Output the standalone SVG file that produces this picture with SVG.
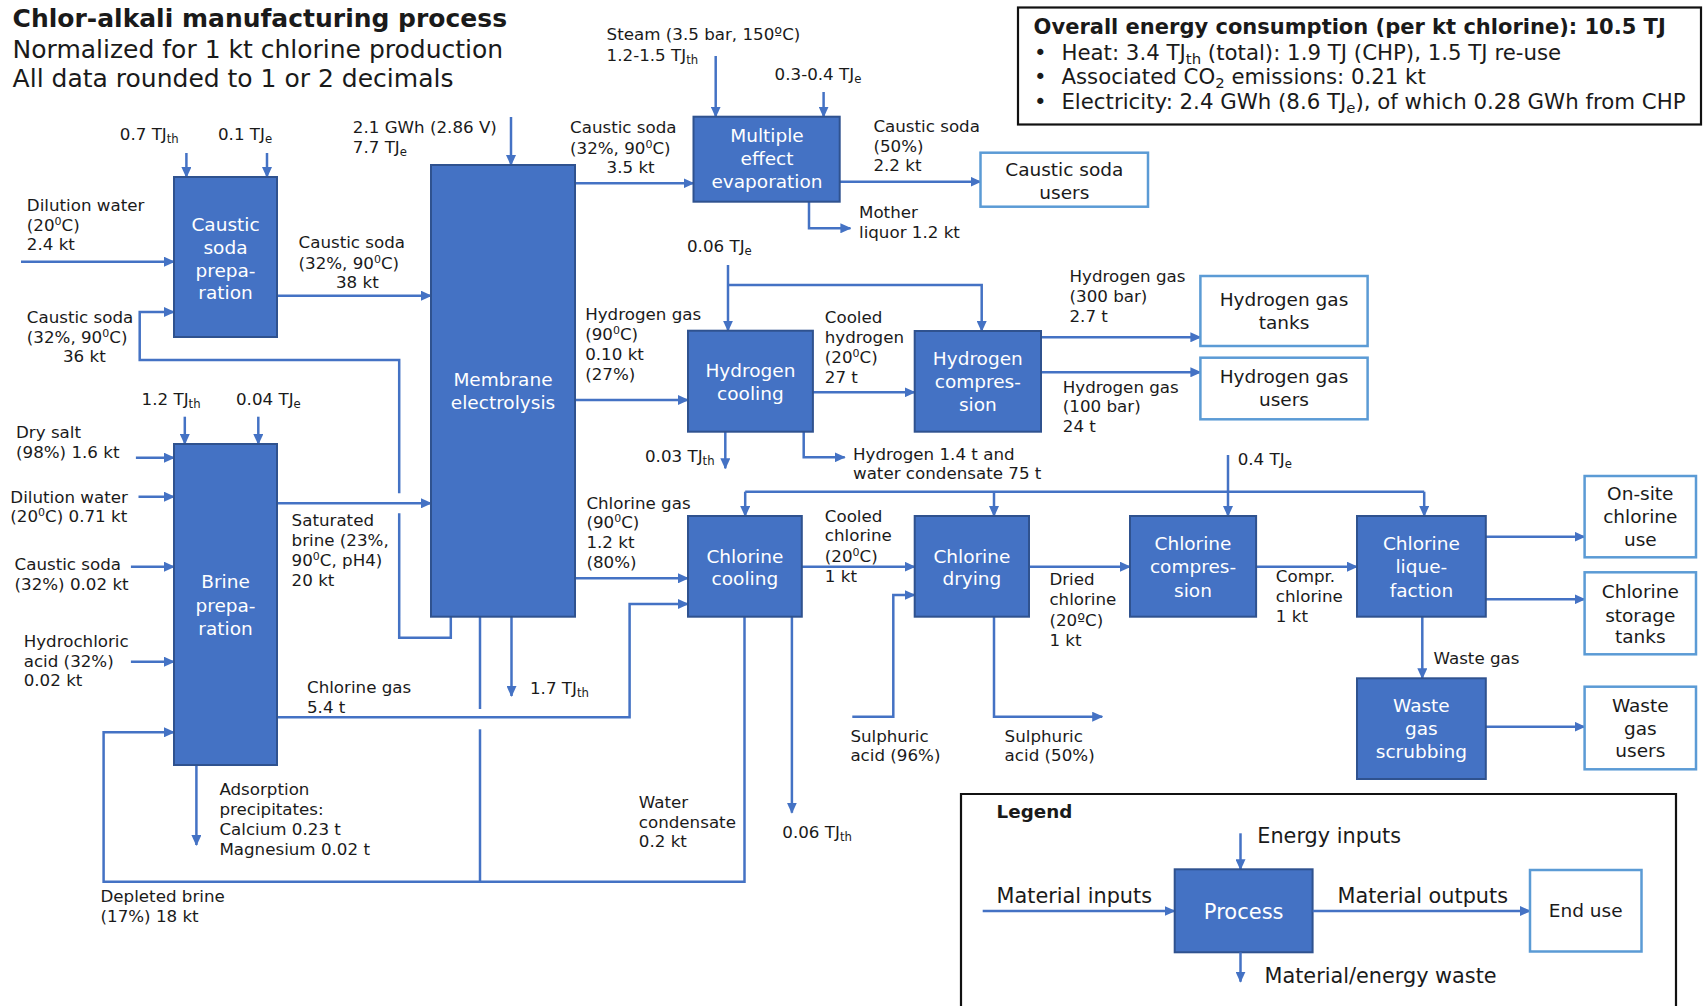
<svg xmlns="http://www.w3.org/2000/svg" width="1703" height="1006" viewBox="0 0 1703 1006">
<defs>
<style>
text{font-family:"DejaVu Sans",Verdana,sans-serif;fill:#1a1a1a}
.lbl{font-size:16.7px}
.ttl{font-size:25px}
.b{font-weight:bold}
.info{font-size:21.3px}
.pt{font-size:18.5px;fill:#ffffff;text-anchor:middle}
.et{font-size:18.5px;text-anchor:middle}
.lg{font-size:20.8px}
.proc{fill:#4472C4;stroke:#2F528F;stroke-width:2}
.end{fill:#ffffff;stroke:#5B9BD5;stroke-width:2.5}
.frame{fill:none;stroke:#111;stroke-width:2.2}
.ln{fill:none;stroke:#4472C4;stroke-width:2.5}
.ar{marker-end:url(#ah)}
.sub{font-size:70%;baseline-shift:-0.25em}
.sup{font-size:66%;baseline-shift:super}
</style>
<marker id="ah" markerUnits="userSpaceOnUse" markerWidth="11" markerHeight="10" refX="10" refY="5" orient="auto">
<path d="M0,0 L11,5 L0,10 z" fill="#4472C4"/>
</marker>
</defs>
<rect width="1703" height="1006" fill="#ffffff"/>

<g id="title">
<text class="ttl b" x="12.6" y="27">Chlor-alkali manufacturing process</text>
<text class="ttl" x="12.6" y="58">Normalized for 1 kt chlorine production</text>
<text class="ttl" x="12.6" y="87">All data rounded to 1 or 2 decimals</text>
</g>

<g id="info-box">
<rect class="frame" x="1018" y="7.5" width="683" height="117"/>
<text class="info b" x="1033.6" y="33.5" style="font-size:21px">Overall energy consumption (per kt chlorine): 10.5 TJ</text>
<text class="info" x="1034" y="59.5">•</text>
<text class="info" x="1061.4" y="59.5">Heat: 3.4 TJ<tspan class="sub">th</tspan> (total): 1.9 TJ (CHP), 1.5 TJ re-use</text>
<text class="info" x="1034" y="84">•</text>
<text class="info" x="1061.4" y="84">Associated CO<tspan class="sub">2</tspan> emissions: 0.21 kt</text>
<text class="info" x="1034" y="108.5">•</text>
<text class="info" x="1061.4" y="108.5">Electricity: 2.4 GWh (8.6 TJ<tspan class="sub">e</tspan>), of which 0.28 GWh from CHP</text>
</g>

<g id="connectors">
<path class="ln ar" d="M186.4,153 V177"/>
<path class="ln ar" d="M267,153 V177"/>
<path class="ln ar" d="M21,261.7 H174"/>
<path class="ln" d="M450.8,616.7 V637.7 H399.2 V513.3"/>
<path class="ln ar" d="M399.2,493.3 V360 H139.7 V312 H174"/>
<path class="ln ar" d="M277,295.7 H431"/>
<path class="ln ar" d="M511,117 V165"/>
<path class="ln ar" d="M575,183.3 H693.5"/>
<path class="ln ar" d="M575,400 H688"/>
<path class="ln ar" d="M575,578.3 H688"/>
<path class="ln ar" d="M511.5,616.7 V696"/>
<path class="ln ar" d="M715.7,56 V116.7"/>
<path class="ln ar" d="M823.6,92 V116.7"/>
<path class="ln ar" d="M839.7,181.7 H980.5"/>
<path class="ln ar" d="M809,201.7 V228.3 H850.4"/>
<path class="ln ar" d="M728,265 V330.7"/>
<path class="ln ar" d="M728,285 H981.7 V331"/>
<path class="ln ar" d="M812.9,392.3 H914.7"/>
<path class="ln ar" d="M1041,337.3 H1200.4"/>
<path class="ln ar" d="M1041,372.3 H1200.4"/>
<path class="ln ar" d="M725.3,431.7 V468.3"/>
<path class="ln ar" d="M803.7,431.7 V457.3 H844.7"/>
<path class="ln" d="M745.2,491.7 H1424.2"/>
<path class="ln ar" d="M745.2,491.7 V516"/>
<path class="ln ar" d="M994,491.7 V516"/>
<path class="ln ar" d="M1424.2,491.7 V516"/>
<path class="ln ar" d="M1228,455 V516"/>
<path class="ln ar" d="M277,717.3 H629.6 V604 H688"/>
<path class="ln ar" d="M801.8,566.7 H914.7"/>
<path class="ln ar" d="M852.3,716.7 H893.3 V595 H914.7"/>
<path class="ln ar" d="M994,616.7 V716.7 H1102.2"/>
<path class="ln ar" d="M1029,566.7 H1130"/>
<path class="ln ar" d="M1256.1,566.7 H1357"/>
<path class="ln ar" d="M1485.8,536.7 H1584.6"/>
<path class="ln ar" d="M1485.8,599.3 H1584.6"/>
<path class="ln ar" d="M1422.3,616.7 V678.3"/>
<path class="ln ar" d="M1485.8,726.7 H1584.6"/>
<path class="ln ar" d="M791.9,616.7 V812.7"/>
<path class="ln ar" d="M184.8,416.7 V444"/>
<path class="ln ar" d="M258.3,416.7 V444"/>
<path class="ln ar" d="M135.9,457.7 H174"/>
<path class="ln ar" d="M138.5,496.7 H174"/>
<path class="ln ar" d="M130.9,566.7 H174"/>
<path class="ln ar" d="M130.9,661.7 H174"/>
<path class="ln ar" d="M277,503.3 H431"/>
<path class="ln ar" d="M196.4,765 V845"/>
<path class="ln" d="M480,616.7 V709"/>
<path class="ln" d="M480,729.3 V881.7"/>
<path class="ln ar" d="M744.5,616.7 V881.7 H103.6 V732.3 H174"/>
</g>

<g id="node-caustic-prep">
<rect class="proc" x="174" y="177" width="103" height="160"/>
<text class="pt" x="225.5" y="230.5">Caustic</text>
<text class="pt" x="225.5" y="253.5">soda</text>
<text class="pt" x="225.5" y="276.5">prepa-</text>
<text class="pt" x="225.5" y="299">ration</text>
</g>
<g id="node-brine-prep">
<rect class="proc" x="174" y="444" width="103" height="321"/>
<text class="pt" x="225.5" y="588.3">Brine</text>
<text class="pt" x="225.5" y="611.7">prepa-</text>
<text class="pt" x="225.5" y="635">ration</text>
</g>
<g id="node-membrane">
<rect class="proc" x="431" y="165" width="144" height="451.7"/>
<text class="pt" x="503" y="386">Membrane</text>
<text class="pt" x="503" y="409.3">electrolysis</text>
</g>
<g id="node-mee">
<rect class="proc" x="693.5" y="116.7" width="146.2" height="85"/>
<text class="pt" x="767" y="141.7">Multiple</text>
<text class="pt" x="767" y="165">effect</text>
<text class="pt" x="767" y="188.3">evaporation</text>
</g>
<g id="node-h2-cooling">
<rect class="proc" x="688" y="330.7" width="124.9" height="101"/>
<text class="pt" x="750.4" y="377">Hydrogen</text>
<text class="pt" x="750.4" y="400">cooling</text>
</g>
<g id="node-h2-compression">
<rect class="proc" x="914.7" y="331" width="126.3" height="100.7"/>
<text class="pt" x="977.8" y="365">Hydrogen</text>
<text class="pt" x="977.8" y="388.3">compres-</text>
<text class="pt" x="977.8" y="411">sion</text>
</g>
<g id="node-cl-cooling">
<rect class="proc" x="688" y="516" width="113.8" height="100.7"/>
<text class="pt" x="744.9" y="562.7">Chlorine</text>
<text class="pt" x="744.9" y="585">cooling</text>
</g>
<g id="node-cl-drying">
<rect class="proc" x="914.7" y="516" width="114.3" height="100.7"/>
<text class="pt" x="971.9" y="562.7">Chlorine</text>
<text class="pt" x="971.9" y="585">drying</text>
</g>
<g id="node-cl-compression">
<rect class="proc" x="1130" y="516" width="126.1" height="100.7"/>
<text class="pt" x="1193" y="550">Chlorine</text>
<text class="pt" x="1193" y="573.3">compres-</text>
<text class="pt" x="1193" y="596.7">sion</text>
</g>
<g id="node-cl-liquefaction">
<rect class="proc" x="1357" y="516" width="128.8" height="100.7"/>
<text class="pt" x="1421.4" y="550">Chlorine</text>
<text class="pt" x="1421.4" y="573.3">lique-</text>
<text class="pt" x="1421.4" y="596.7">faction</text>
</g>
<g id="node-waste-gas-scrubbing">
<rect class="proc" x="1357" y="678.3" width="128.8" height="100.7"/>
<text class="pt" x="1421.4" y="711.7">Waste</text>
<text class="pt" x="1421.4" y="735">gas</text>
<text class="pt" x="1421.4" y="758.3">scrubbing</text>
</g>

<g id="node-caustic-users">
<rect class="end" x="980.5" y="152.7" width="167.5" height="54"/>
<text class="et" x="1064.3" y="175.7">Caustic soda</text>
<text class="et" x="1064.3" y="199">users</text>
</g>
<g id="node-h2-tanks">
<rect class="end" x="1200.4" y="276" width="167.2" height="70"/>
<text class="et" x="1284" y="306">Hydrogen gas</text>
<text class="et" x="1284" y="329.3">tanks</text>
</g>
<g id="node-h2-users">
<rect class="end" x="1200.4" y="357.7" width="167.2" height="61.6"/>
<text class="et" x="1284" y="383.3">Hydrogen gas</text>
<text class="et" x="1284" y="406">users</text>
</g>
<g id="node-onsite-cl">
<rect class="end" x="1584.6" y="476" width="111.4" height="81.3"/>
<text class="et" x="1640.3" y="500">On-site</text>
<text class="et" x="1640.3" y="523.3">chlorine</text>
<text class="et" x="1640.3" y="546">use</text>
</g>
<g id="node-cl-storage">
<rect class="end" x="1584.6" y="572.3" width="111.4" height="82"/>
<text class="et" x="1640.3" y="598.3">Chlorine</text>
<text class="et" x="1640.3" y="621.7">storage</text>
<text class="et" x="1640.3" y="643.3">tanks</text>
</g>
<g id="node-wg-users">
<rect class="end" x="1584.6" y="686.7" width="111.4" height="82.6"/>
<text class="et" x="1640.3" y="711.7">Waste</text>
<text class="et" x="1640.3" y="735">gas</text>
<text class="et" x="1640.3" y="757.3">users</text>
</g>

<g id="labels">
<text class="lbl" x="119.8" y="140">0.7 TJ<tspan class="sub">th</tspan></text>
<text class="lbl" x="218" y="140">0.1 TJ<tspan class="sub">e</tspan></text>
<text class="lbl" x="26.8" y="211">Dilution water</text>
<text class="lbl" x="26.8" y="230.5">(20<tspan class="sup">0</tspan>C)</text>
<text class="lbl" x="26.8" y="250">2.4 kt</text>
<text class="lbl" x="26.8" y="323">Caustic soda</text>
<text class="lbl" x="26.8" y="343">(32%, 90<tspan class="sup">0</tspan>C)</text>
<text class="lbl" x="63" y="362">36 kt</text>
<text class="lbl" x="298.5" y="248">Caustic soda</text>
<text class="lbl" x="298.5" y="268.5">(32%, 90<tspan class="sup">0</tspan>C)</text>
<text class="lbl" x="336" y="287.5">38 kt</text>
<text class="lbl" x="352.8" y="133">2.1 GWh (2.86 V)</text>
<text class="lbl" x="352.8" y="153">7.7 TJ<tspan class="sub">e</tspan></text>
<text class="lbl" x="606.6" y="40">Steam (3.5 bar, 150ºC)</text>
<text class="lbl" x="606.6" y="60.5">1.2-1.5 TJ<tspan class="sub">th</tspan></text>
<text class="lbl" x="774.6" y="80">0.3-0.4 TJ<tspan class="sub">e</tspan></text>
<text class="lbl" x="570" y="133">Caustic soda</text>
<text class="lbl" x="570" y="153.5">(32%, 90<tspan class="sup">0</tspan>C)</text>
<text class="lbl" x="606.6" y="173">3.5 kt</text>
<text class="lbl" x="873.4" y="131.7">Caustic soda</text>
<text class="lbl" x="873.4" y="151.7">(50%)</text>
<text class="lbl" x="873.4" y="170.5">2.2 kt</text>
<text class="lbl" x="859" y="218.3">Mother</text>
<text class="lbl" x="859" y="238.3">liquor 1.2 kt</text>
<text class="lbl" x="687" y="251.7">0.06 TJ<tspan class="sub">e</tspan></text>
<text class="lbl" x="585.2" y="320">Hydrogen gas</text>
<text class="lbl" x="585.2" y="340">(90<tspan class="sup">0</tspan>C)</text>
<text class="lbl" x="585.2" y="360">0.10 kt</text>
<text class="lbl" x="585.2" y="380">(27%)</text>
<text class="lbl" x="824.8" y="322.7">Cooled</text>
<text class="lbl" x="824.8" y="343">hydrogen</text>
<text class="lbl" x="824.8" y="363">(20<tspan class="sup">0</tspan>C)</text>
<text class="lbl" x="824.8" y="383">27 t</text>
<text class="lbl" x="1069.5" y="281.7">Hydrogen gas</text>
<text class="lbl" x="1069.5" y="301.7">(300 bar)</text>
<text class="lbl" x="1069.5" y="321.7">2.7 t</text>
<text class="lbl" x="1062.8" y="392.7">Hydrogen gas</text>
<text class="lbl" x="1062.8" y="412.3">(100 bar)</text>
<text class="lbl" x="1062.8" y="431.7">24 t</text>
<text class="lbl" x="645" y="462.3">0.03 TJ<tspan class="sub">th</tspan></text>
<text class="lbl" x="853" y="460">Hydrogen 1.4 t and</text>
<text class="lbl" x="853" y="479.3">water condensate 75 t</text>
<text class="lbl" x="586.4" y="508.5">Chlorine gas</text>
<text class="lbl" x="586.4" y="528">(90<tspan class="sup">0</tspan>C)</text>
<text class="lbl" x="586.4" y="548">1.2 kt</text>
<text class="lbl" x="586.4" y="568">(80%)</text>
<text class="lbl" x="824.8" y="521.7">Cooled</text>
<text class="lbl" x="824.8" y="541">chlorine</text>
<text class="lbl" x="824.8" y="561.5">(20<tspan class="sup">0</tspan>C)</text>
<text class="lbl" x="824.8" y="581.5">1 kt</text>
<text class="lbl" x="1049.4" y="585">Dried</text>
<text class="lbl" x="1049.4" y="605">chlorine</text>
<text class="lbl" x="1049.4" y="625.5">(20ºC)</text>
<text class="lbl" x="1049.4" y="646">1 kt</text>
<text class="lbl" x="1275.8" y="581.7">Compr.</text>
<text class="lbl" x="1275.8" y="601.7">chlorine</text>
<text class="lbl" x="1275.8" y="621.7">1 kt</text>
<text class="lbl" x="1237.7" y="465">0.4 TJ<tspan class="sub">e</tspan></text>
<text class="lbl" x="1433.5" y="664">Waste gas</text>
<text class="lbl" x="850.4" y="741.7">Sulphuric</text>
<text class="lbl" x="850.4" y="760.7">acid (96%)</text>
<text class="lbl" x="1004.6" y="741.7">Sulphuric</text>
<text class="lbl" x="1004.6" y="760.7">acid (50%)</text>
<text class="lbl" x="638.8" y="808.3">Water</text>
<text class="lbl" x="638.8" y="828">condensate</text>
<text class="lbl" x="638.8" y="847">0.2 kt</text>
<text class="lbl" x="782.3" y="838.3">0.06 TJ<tspan class="sub">th</tspan></text>
<text class="lbl" x="141.6" y="405">1.2 TJ<tspan class="sub">th</tspan></text>
<text class="lbl" x="236" y="405">0.04 TJ<tspan class="sub">e</tspan></text>
<text class="lbl" x="16" y="437.7">Dry salt</text>
<text class="lbl" x="16" y="457.7">(98%) 1.6 kt</text>
<text class="lbl" x="10.3" y="502.7">Dilution water</text>
<text class="lbl" x="10.3" y="521.7">(20<tspan class="sup">0</tspan>C) 0.71 kt</text>
<text class="lbl" x="14.5" y="570">Caustic soda</text>
<text class="lbl" x="14.5" y="590">(32%) 0.02 kt</text>
<text class="lbl" x="23.7" y="646.7">Hydrochloric</text>
<text class="lbl" x="23.7" y="666.7">acid (32%)</text>
<text class="lbl" x="23.7" y="685.7">0.02 kt</text>
<text class="lbl" x="291.6" y="526">Saturated</text>
<text class="lbl" x="291.6" y="546">brine (23%,</text>
<text class="lbl" x="291.6" y="566">90<tspan class="sup">0</tspan>C, pH4)</text>
<text class="lbl" x="291.6" y="586">20 kt</text>
<text class="lbl" x="307" y="693.3">Chlorine gas</text>
<text class="lbl" x="307" y="712.7">5.4 t</text>
<text class="lbl" x="530" y="694">1.7 TJ<tspan class="sub">th</tspan></text>
<text class="lbl" x="219.4" y="795">Adsorption</text>
<text class="lbl" x="219.4" y="815">precipitates:</text>
<text class="lbl" x="219.4" y="834.5">Calcium 0.23 t</text>
<text class="lbl" x="219.4" y="855">Magnesium 0.02 t</text>
<text class="lbl" x="100.5" y="901.7">Depleted brine</text>
<text class="lbl" x="100.5" y="921.7">(17%) 18 kt</text>
</g>

<g id="legend">
<path class="frame" d="M961,1010 V794 H1676 V1010"/>
<text class="b" x="996.6" y="818.3" style="font-size:18.3px">Legend</text>
<path class="ln ar" d="M1240.5,833.3 V869.3"/>
<text class="lg" x="1257.3" y="842.7">Energy inputs</text>
<path class="ln ar" d="M982.7,911 H1174.7"/>
<text class="lg" x="996.6" y="902.7">Material inputs</text>
<rect class="proc" x="1174.7" y="869.3" width="137.9" height="83"/>
<text class="pt" x="1243.7" y="919.3" style="font-size:21px">Process</text>
<path class="ln ar" d="M1312.6,911 H1530"/>
<text class="lg" x="1337.5" y="902.7">Material outputs</text>
<rect class="end" x="1530" y="870" width="111.5" height="81.5"/>
<text class="et" x="1585.7" y="916.7">End use</text>
<path class="ln ar" d="M1240.5,952.3 V981.7"/>
<text class="lg" x="1264.5" y="983.3">Material/energy waste</text>
</g>
</svg>
